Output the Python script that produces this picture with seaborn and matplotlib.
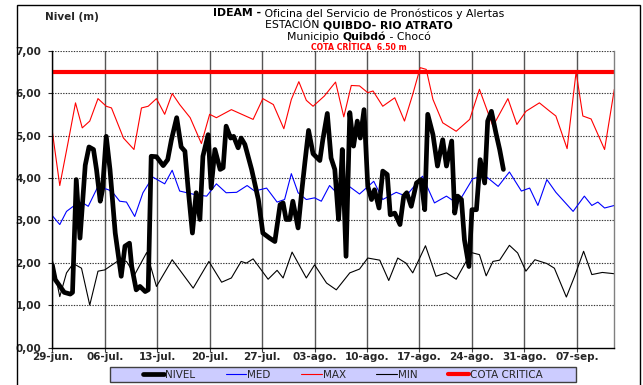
#Libraries
import numpy as np
import pandas as pd
import seaborn as sns
import matplotlib.pyplot as plt
from matplotlib.patches import Rectangle

# Data (dias desde 29-jun.)
nivel_dias = [0, 0.4, 1.0, 1.6, 2.4, 2.7, 3.2, 3.7, 4.4, 4.9, 5.5, 5.9, 6.4, 6.7, 7.2, 7.7,
              8.4, 9.2, 9.7, 10.3, 10.6, 11.2, 11.7, 12.4, 12.8, 13.2, 13.9, 14.8, 15.4, 15.9,
              16.6, 17.2, 17.7, 18.1, 18.7, 19.2, 19.7, 20.1, 20.8, 21.2, 21.7, 22.4, 22.8,
              23.2, 23.8, 24.2, 24.8, 25.2, 25.7, 26.6, 27.5, 28.1, 29.0, 29.7, 30.4, 30.8,
              31.2, 31.7, 32.1, 32.8, 33.3, 33.7, 34.2, 34.8, 35.7, 36.1, 36.7, 37.2, 37.7,
              38.2, 38.4, 38.7, 39.2, 39.7, 40.2, 40.7, 41.1, 41.6, 42.1, 42.6, 43.0, 43.6,
              44.1, 44.7, 45.1, 45.7, 46.4, 46.9, 47.3, 47.9, 48.6, 49.2, 49.7, 50.1, 50.8,
              51.4, 52.1, 52.6, 53.3, 53.7, 54.1, 54.6, 55.0, 55.6, 56.0, 56.6, 57.1, 57.7,
              58.1, 58.6, 59.2, 59.7, 60.2]
nivel_valores = [1.95, 1.6, 1.45, 1.3, 1.26, 1.3, 3.96, 2.58, 4.3, 4.73, 4.67, 4.2, 3.45, 3.72,
                 4.98, 4.2, 2.7, 1.68, 2.39, 2.46, 1.91, 1.36, 1.44, 1.32, 1.36, 4.51, 4.5,
                 4.29, 4.43, 4.9, 5.42, 4.73, 4.63, 3.8, 2.7, 3.65, 3.02, 4.51, 5.02, 3.76,
                 4.67, 4.2, 4.24, 5.22, 4.94, 4.98, 4.71, 4.94, 4.79, 4.2, 3.49, 2.7, 2.58,
                 2.5, 3.37, 3.41, 3.02, 3.02, 3.45, 2.82, 3.7, 4.35, 5.12, 4.57, 4.41, 4.9,
                 5.52, 4.47, 4.2, 3.02, 3.57, 4.67, 2.15, 5.54, 4.75, 5.34, 4.94, 5.61, 3.8,
                 3.49, 3.72, 3.29, 4.16, 4.08, 3.13, 3.17, 2.9, 3.57, 3.65, 3.33, 3.88, 3.96,
                 3.25, 5.5, 5.02, 4.28, 4.9, 4.28, 4.87, 3.17, 3.57, 3.49, 2.54, 1.91, 3.25,
                 3.25, 4.43, 3.88, 5.34, 5.57, 5.06, 4.67, 4.2]

med_dias = [0, 1.0, 1.9, 2.8, 3.9, 4.8, 6.1, 7.5, 8.1, 9.0, 9.9, 11.0, 12.1, 13.4, 15.0, 16.0,
            17.0, 19.2, 20.6, 21.9, 23.2, 24.6, 26.0, 27.0, 28.6, 30.0, 31.0, 31.9, 32.8,
            33.9, 35.0, 35.9, 37.0, 38.6, 39.7, 41.0, 42.9, 44.1, 45.9, 47.2, 49.4, 51.0,
            52.6, 54.1, 56.1, 57.7, 59.5, 61.0, 62.6, 63.7, 64.8, 66.0, 67.2, 69.5, 71.0,
            72.0, 72.8, 73.7, 75.0]
med_valores = [3.11, 2.9, 3.21, 3.33, 3.43, 3.33, 3.8, 3.72, 3.65, 3.45, 3.43, 3.09, 3.65,
               4.02, 3.86, 4.18, 3.69, 3.6, 3.57, 3.86, 3.65, 3.66, 3.82, 3.69, 3.76, 3.43,
               3.49, 4.1, 3.65, 3.49, 3.53, 3.45, 3.82, 3.53, 3.79, 3.62, 3.92, 3.49, 3.66,
               3.57, 4.04, 3.41, 3.57, 3.39, 3.98, 4.06, 3.8, 4.14, 3.69, 3.76, 3.35, 3.96,
               3.66, 3.21, 3.57, 3.35, 3.43, 3.29, 3.35]

max_dias = [0, 1.0, 2.1, 3.1, 4.0, 5.0, 6.1, 7.2, 7.9, 9.5, 10.9, 11.9, 12.8, 13.9, 15.0,
            16.0, 17.0, 18.4, 19.9, 21.0, 21.9, 23.9, 26.8, 28.1, 29.5, 30.9, 31.9, 32.9,
            33.9, 34.8, 36.3, 37.8, 38.9, 39.9, 41.0, 42.1, 42.8, 44.1, 45.7, 47.0, 48.1,
            49.1, 49.9, 50.8, 52.1, 53.9, 55.7, 57.0, 58.8, 60.8, 62.0, 63.2, 65.0, 66.4,
            67.2, 68.7, 69.9, 70.8, 71.9, 73.7, 75.0]
max_valores = [5.1, 3.82, 4.83, 5.77, 5.18, 5.34, 5.87, 5.69, 5.65, 4.94, 4.67, 5.65, 5.69,
               5.87, 5.5, 5.99, 5.73, 5.42, 4.81, 5.5, 5.42, 5.61, 5.38, 5.87, 5.73, 5.16,
               5.85, 6.27, 5.83, 5.69, 5.93, 6.26, 5.44, 6.18, 6.17, 6.01, 6.05, 5.69, 5.89,
               5.34, 5.97, 6.6, 6.56, 5.85, 5.3, 5.1, 5.38, 6.09, 5.22, 5.87, 5.26, 5.57,
               5.77, 5.57, 5.46, 4.69, 6.5, 5.46, 5.39, 4.67, 6.09]

min_dias = [0, 1.0, 1.9, 2.8, 3.9, 5.0, 6.1, 7.0, 9.0, 9.9, 11.0, 12.6, 13.9, 16.0, 18.8,
            20.9, 22.6, 23.9, 25.2, 25.9, 26.8, 28.8, 30.0, 30.8, 32.0, 33.9, 35.0, 36.6,
            37.9, 39.7, 41.0, 42.1, 43.7, 44.9, 46.1, 47.2, 48.1, 49.8, 51.2, 52.6, 53.9,
            55.9, 57.0, 57.9, 58.8, 59.7, 61.0, 62.1, 63.2, 64.4, 66.0, 67.0, 68.6, 69.7,
            70.9, 72.0, 73.4, 75.0]
min_valores = [2.07, 1.2, 1.76, 1.98, 1.87, 1.0, 1.8, 1.83, 2.07, 2.03, 1.72, 2.24, 1.44,
               2.07, 1.4, 2.03, 1.54, 1.64, 2.03, 1.99, 2.09, 1.61, 1.82, 1.64, 2.25, 1.64,
               1.95, 1.52, 1.36, 1.76, 1.85, 2.11, 2.06, 1.58, 2.11, 1.99, 1.76, 2.4, 1.68,
               1.76, 1.61, 2.24, 2.19, 1.69, 2.03, 2.06, 2.41, 2.23, 1.8, 2.07, 1.98, 1.87,
               1.19, 1.68, 2.27, 1.72, 1.77, 1.74]

cota_dias = [0, 75]
cota_valores = [6.5, 6.5]

tick_dias = [0, 7, 14, 21, 28, 35, 42, 49, 56, 63, 70]
tick_labels = ['29-jun.', '06-jul.', '13-jul.', '20-jul.', '27-jul.', '03-ago.',
               '10-ago.', '17-ago.', '24-ago.', '31-ago.', '07-sep.']
y_ticks = [0, 1, 2, 3, 4, 5, 6, 7]

# Style
sns.set_style('white')
plt.rcParams['font.family'] = ['DejaVu Sans']

fig = plt.figure(figsize=(6.43, 3.85), dpi=100)
ax = fig.add_axes([0.0813, 0.0974, 0.8741, 0.7709])

series = [
    ('COTA CRITICA', cota_dias, cota_valores, '#FF0000', 3.0),
    ('MIN', min_dias, min_valores, '#000000', 0.8),
    ('MAX', max_dias, max_valores, '#FF0000', 0.8),
    ('MED', med_dias, med_valores, '#0000FF', 0.8),
    ('NIVEL', nivel_dias, nivel_valores, '#000000', 3.4),
]
handles = {}
for name, xs, ys, col, lw in series:
    df = pd.DataFrame({'dia': xs, 'valor': ys})
    sns.lineplot(data=df, x='dia', y='valor', ax=ax, color=col, linewidth=lw,
                 estimator=None, legend=False, solid_joinstyle='round',
                 solid_capstyle='round')
    handles[name] = ax.lines[-1]

ax.set_xlim(0, 75)
ax.set_ylim(0, 7)
ax.set_xticks(tick_dias)
ax.set_xticklabels(tick_labels, fontweight='bold', fontsize=7.5)
ax.set_yticks(y_ticks)
ax.set_yticklabels([f'{v:.2f}'.replace('.', ',') for v in y_ticks], fontweight='bold', fontsize=7.5)
ax.set_xlabel('')
ax.set_ylabel('')
ax.tick_params(axis='x', length=3, pad=0.5, direction='out', bottom=True, color='#404040')
ax.tick_params(axis='y', length=3, pad=5, direction='out', left=True)

# grid
for d in tick_dias:
    ax.axvline(d, color='#555555', lw=1.0, zorder=0.5)
for v in y_ticks[1:]:
    ax.axhline(v, color='#333333', lw=0.8, ls=(0, (1.2, 1.2)), zorder=0.5)

ax.spines['top'].set_visible(False)
ax.spines['left'].set_color('#000000')
ax.spines['bottom'].set_color('#000000')
ax.spines['right'].set_color('#808080')
for s in ax.spines.values():
    s.set_linewidth(1.0)

# Titles with mixed weights
renderer = fig.canvas.get_renderer()


def rich_line(y, parts, size, color='black', cx=0.558):
    texts = []
    for s, w in parts:
        t = fig.text(0, y, s, fontsize=size, fontweight=w, color=color, va='center', ha='left')
        texts.append(t)
    widths = [t.get_window_extent(renderer).width / fig.bbox.width for t in texts]
    x = cx - sum(widths) / 2
    for t, w in zip(texts, widths):
        t.set_x(x)
        x += w


rich_line(1 - 13.5 / 385, [('IDEAM -', 'bold'), (' Oficina del Servicio de Pronósticos y Alertas', 'normal')], 7.8)
rich_line(1 - 25.5 / 385, [('ESTACIÓN ', 'normal'), ('QUIBDO- RIO ATRATO', 'bold')], 7.8)
rich_line(1 - 37 / 385, [('Municipio ', 'normal'), ('Quibdó', 'bold'), (' - Chocó', 'normal')], 7.8)
rich_line(1 - 48 / 385, [('COTA CRÍTICA  6.50 m', 'bold')], 5.6, color='#FF0000')

fig.text(45 / 643, 1 - 17 / 385, 'Nivel (m)', fontsize=7.5, fontweight='bold', va='center', ha='left')

# Legend box
fig.add_artist(Rectangle((110 / 643, 1 - 382 / 385), (576 - 110) / 643, 15 / 385,
                         transform=fig.transFigure, facecolor='#CCCCFF', edgecolor='#404040',
                         lw=1.0, zorder=2))
order = ['NIVEL', 'MED', 'MAX', 'MIN', 'COTA CRITICA']
leg = fig.legend([handles[n] for n in order], order, loc='center',
                 bbox_to_anchor=(343 / 643, 1 - 374.5 / 385), ncol=5, fontsize=7.5,
                 frameon=False, handlelength=2.0, handletextpad=0.1, columnspacing=2.9,
                 borderpad=0.2)
leg.set_zorder(3)

# frame around figure
fig.add_artist(Rectangle((16.5 / 643, -0.02), (640 - 16.5) / 643, 1 - 4.7 / 385 + 0.02,
                         transform=fig.transFigure, fill=False, lw=1.0, ec='black'))

fig.savefig('out.png', dpi=100)
